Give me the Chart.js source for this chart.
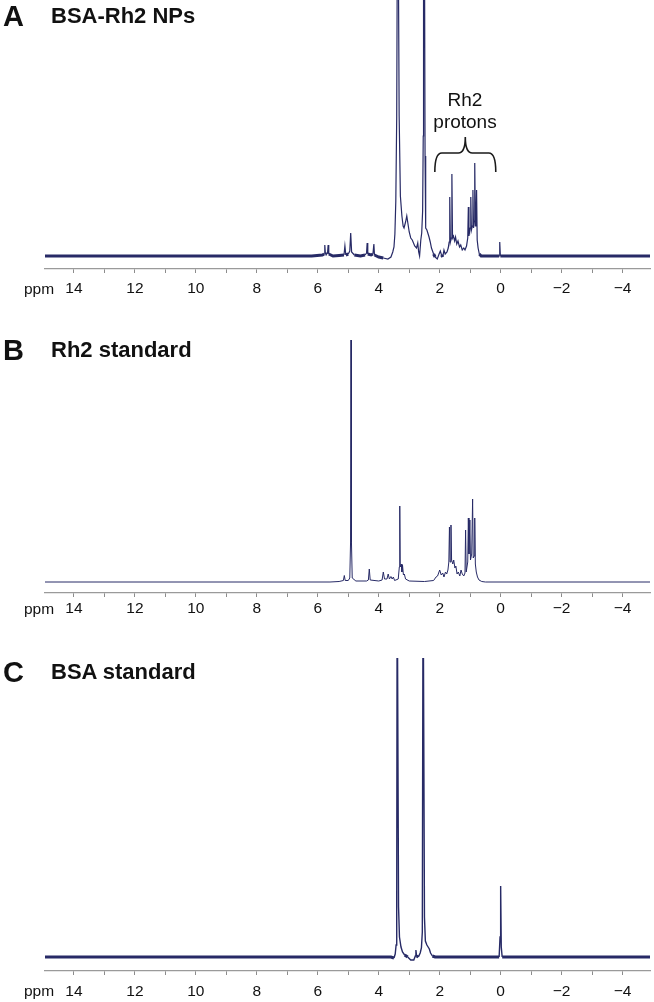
<!DOCTYPE html>
<html>
<head>
<meta charset="utf-8">
<script src="https://cdn.jsdelivr.net/npm/chart.js@4/dist/chart.umd.min.js"></script>
<style>
  body { margin: 0; background: #fff; font-family: "Liberation Sans", Arial, sans-serif; color: #111; }
  #page { position: relative; width: 654px; height: 1002px; overflow: hidden; }
  .box { position: absolute; left: 0; width: 654px; }
  .letter { position: absolute; left: 3px; font-weight: bold; font-size: 29px; line-height: 1; }
  .title { position: absolute; left: 51px; font-weight: bold; font-size: 22px; line-height: 1; white-space: nowrap; }
  .ppm { position: absolute; left: 24px; font-size: 15.5px; line-height: 1; }
  .note { position: absolute; left: 415px; width: 100px; text-align: center; font-size: 19px; line-height: 1; }
</style>
</head>
<body>
<div id="page">
  <div class="box" style="top:0;height:299px"><canvas id="chartA"></canvas></div>
  <div class="box" style="top:330px;height:293px"><canvas id="chartB"></canvas></div>
  <div class="box" style="top:658px;height:343px"><canvas id="chartC"></canvas></div>

  <div class="letter" style="top:2px">A</div>
  <div class="title" style="top:5px">BSA-Rh2 NPs</div>
  <div class="note" style="top:90px">Rh2</div>
  <div class="note" style="top:112px">protons</div>
  <div class="ppm" style="top:281px">ppm</div>

  <div class="letter" style="top:336px">B</div>
  <div class="title" style="top:339px">Rh2 standard</div>
  <div class="ppm" style="top:601px">ppm</div>

  <div class="letter" style="top:658px">C</div>
  <div class="title" style="top:661px">BSA standard</div>
  <div class="ppm" style="top:983px">ppm</div>
</div>
<script>
// chemical shift (ppm) and intensity (px above baseline)
const spectrumA = [
  [14.95,0],[6.2,0],[5.85,1],[5.79,2],[5.77,11],[5.75,2],[5.7,2],[5.68,3],[5.66,11],[5.64,2],[5.5,0],[5.3,0.5],
  [5.14,1],[5.11,10],[5.08,1],[5.0,2],[4.95,5],[4.92,23],[4.89,4],[4.8,1],[4.6,0],[4.45,1],[4.4,3],[4.38,13],[4.36,2],
  [4.25,1],[4.19,2],[4.16,12],[4.14,1],[4.0,-1],[3.85,-2],[3.7,-3],[3.6,-1],[3.54,4],[3.5,9],[3.47,22],[3.44,55],
  [3.41,140],[3.39,320],[3.36,320],[3.33,140],[3.29,60],[3.24,40],[3.2,30],[3.17,28],[3.12,34],[3.08,40],[3.05,34],
  [3.0,24],[2.95,18],[2.9,16],[2.82,10],[2.76,8],[2.72,13],[2.69,4],[2.66,0],[2.62,16],[2.59,23],[2.56,45],[2.54,120],
  [2.53,320],[2.5,320],[2.48,100],[2.46,28],[2.42,26],[2.38,22],[2.35,19],[2.31,14],[2.27,8],[2.2,2],[2.15,-1],
  [2.08,-3],[2.02,2],[1.98,5],[1.94,1],[1.9,-1],[1.86,6],[1.82,2],[1.76,4],[1.72,8],[1.69,14],[1.67,59],[1.65,14],
  [1.62,18],[1.6,82],[1.58,18],[1.55,20],[1.51,15],[1.48,19],[1.44,12],[1.4,15],[1.35,9],[1.31,11],[1.26,6],[1.21,8],
  [1.17,6],[1.12,10],[1.08,18],[1.06,49],[1.04,20],[1.0,28],[0.98,59],[0.96,26],[0.93,30],[0.91,66],[0.89,28],
  [0.87,35],[0.85,93],[0.83,30],[0.81,34],[0.79,66],[0.77,16],[0.74,8],[0.7,2],[0.64,0],[0.3,0],[0.05,0],[0.03,14],
  [0.01,0],[-4.9,0]
];
const spectrumB = [
  [14.95,0],[5.6,0],[5.3,0.5],[5.16,1.5],[5.13,6.5],[5.1,1.5],[5.0,1.5],[4.95,4],[4.925,40],[4.91,242],[4.895,40],
  [4.87,4],[4.75,1],[4.4,1],[4.34,2],[4.31,13],[4.28,2],[4.0,1],[3.89,2],[3.85,10],[3.81,3],[3.73,3],[3.69,8],[3.65,3],
  [3.6,5.5],[3.56,3],[3.52,5],[3.48,1.5],[3.36,3],[3.325,15],[3.31,76],[3.295,15],[3.26,18],[3.24,10],[3.22,17],
  [3.19,7],[3.16,8],[3.12,3],[3.0,1],[2.5,0.5],[2.2,1.5],[2.12,5],[2.07,6],[2.0,12],[1.95,7],[1.9,9],[1.86,5],[1.81,10],
  [1.77,8],[1.73,12],[1.7,20],[1.68,55],[1.66,20],[1.63,57],[1.61,22],[1.57,18],[1.54,22],[1.5,14],[1.47,16],[1.43,8],
  [1.39,10],[1.34,6],[1.3,12],[1.26,8],[1.21,6],[1.17,9],[1.15,52],[1.13,10],[1.08,20],[1.06,64],[1.04,28],[1.01,62],
  [0.99,22],[0.95,28],[0.92,83],[0.9,24],[0.87,26],[0.85,64],[0.83,18],[0.8,10],[0.76,5],[0.71,2],[0.62,0.5],[0.5,0],
  [-4.9,0]
];
const spectrumC = [
  [14.95,0],[3.6,0],[3.5,-1],[3.46,3],[3.43,12],[3.41,60],[3.395,400],[3.37,400],[3.35,50],
  [3.32,20],[3.27,10],[3.22,5],[3.15,2],[3.05,0],[2.95,-3],[2.85,-3],[2.8,1],[2.78,7],[2.76,1],[2.7,0],[2.64,4],
  [2.6,9],[2.57,25],[2.545,400],[2.52,400],[2.5,40],[2.47,16],[2.42,12],[2.38,10],[2.34,8],[2.3,4],[2.24,1],[2.15,0],
  [0.05,0],[0.02,20],[0.0,71],[-0.02,10],[-0.05,0],[-4.9,0]
];
const tickPpm = [14, 13, 12, 11, 10, 9, 8, 7, 6, 5, 4, 3, 2, 1, 0, -1, -2, -3, -4];
const ppmRange = [-4.9, 14.95];
const braceRange = [2.16, 0.16];

const lineColor = '#272a66';

function tickLabel(v) {
  if (v % 2 !== 0) return '';
  return v < 0 ? '\u2212' + Math.abs(v) : String(v);
}

const bracePlugin = {
  id: 'brace',
  afterDraw(chart) {
    const x = chart.scales.x, c = chart.ctx;
    const l = x.getPixelForValue(braceRange[0]);
    const r = x.getPixelForValue(braceRange[1]);
    const m = (l + r) / 2;
    const yBar = 153, yEnd = 172, yTip = 137;
    c.save();
    c.strokeStyle = '#1a1a1a';
    c.lineWidth = 1.6;
    c.beginPath();
    c.moveTo(l, yEnd);
    c.quadraticCurveTo(l, yBar, l + 7, yBar);
    c.lineTo(m - 7, yBar);
    c.quadraticCurveTo(m, yBar, m, yTip);
    c.quadraticCurveTo(m, yBar, m + 7, yBar);
    c.lineTo(r - 7, yBar);
    c.quadraticCurveTo(r, yBar, r, yEnd);
    c.stroke();
    c.restore();
  }
};

function makeChart(id, points, yMin, yMax, labelPad, baseWidth, peakWidth, plugins) {
  return new Chart(document.getElementById(id), {
    type: 'line',
    data: {
      datasets: [{
        data: points.map(p => ({ x: p[0], y: p[1] })),
        borderColor: lineColor,
        borderWidth: peakWidth,
        pointRadius: 0,
        tension: 0,
        clip: 0,
        segment: {
          borderWidth: ctx => (Math.abs(ctx.p0.parsed.y) < 3 && Math.abs(ctx.p1.parsed.y) < 3) ? baseWidth : peakWidth
        }
      }]
    },
    options: {
      responsive: true,
      maintainAspectRatio: false,
      animation: false,
      events: [],
      layout: { padding: { left: 45, right: 4, top: 0, bottom: 0 } },
      plugins: { legend: { display: false }, tooltip: { enabled: false } },
      scales: {
        x: {
          type: 'linear',
          reverse: true,
          min: ppmRange[0],
          max: ppmRange[1],
          border: { display: true, color: '#9a9a9a', width: 1.3 },
          grid: { drawOnChartArea: false, drawTicks: true, tickLength: 4, color: '#8c8c8c' },
          ticks: {
            autoSkip: false,
            maxRotation: 0,
            padding: labelPad,
            color: '#111',
            font: { family: '"Liberation Sans", Arial, sans-serif', size: 15.5 },
            callback: v => tickLabel(v)
          },
          afterBuildTicks: s => { s.ticks = tickPpm.map(v => ({ value: v })); },
          afterFit: s => { s.height = 30; }
        },
        y: { display: false, min: yMin, max: yMax }
      }
    },
    plugins: plugins || []
  });
}

makeChart('chartA', spectrumA, -13, 256, 6.5, 3, 1.2, [bracePlugin]);
makeChart('chartB', spectrumB, -11, 252, 2.5, 1, 1, []);
makeChart('chartC', spectrumC, -14, 299, 7, 3, 1.4, []);
</script>
</body>
</html>
